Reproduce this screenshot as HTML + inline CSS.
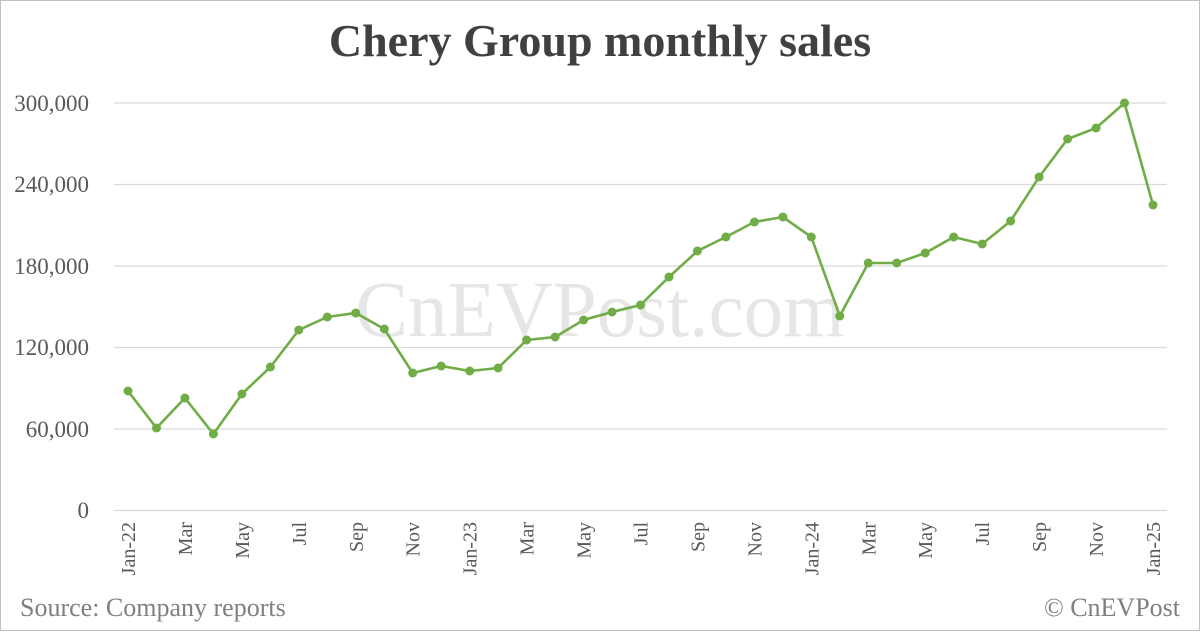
<!DOCTYPE html>
<html><head><meta charset="utf-8"><style>
body{margin:0;background:#fff}
</style></head><body>
<svg width="1200" height="631" viewBox="0 0 1200 631" xmlns="http://www.w3.org/2000/svg" font-family="Liberation Serif, serif">
<rect x="0.5" y="0.5" width="1199" height="630" fill="#fff" stroke="#bfbfbf"/>
<text x="600" y="56" text-anchor="middle" font-size="46" font-weight="bold" fill="#404040">Chery Group monthly sales</text>
<text x="600" y="336" text-anchor="middle" font-size="79" fill="#e6e6e6">CnEVPost.com</text>
<g stroke="#d9d9d9" stroke-width="1.3">
<line x1="114" x2="1167" y1="103" y2="103"/><line x1="114" x2="1167" y1="184.5" y2="184.5"/>
<line x1="114" x2="1167" y1="266" y2="266"/><line x1="114" x2="1167" y1="347.5" y2="347.5"/>
<line x1="114" x2="1167" y1="429" y2="429"/><line x1="114" x2="1167" y1="510.5" y2="510.5"/>
</g>
<g font-size="23" fill="#595959" text-anchor="end">
<text x="89" y="111">300,000</text><text x="89" y="192">240,000</text><text x="89" y="274">180,000</text>
<text x="89" y="355">120,000</text><text x="89" y="437">60,000</text><text x="89" y="518">0</text>
</g>
<path fill="none" stroke="#70ad47" stroke-width="2.6" d="M128,391 L156.5,428 L184.9,398 L213.4,434 L241.9,394 L270.4,367 L298.8,330 L327.3,317 L355.8,313 L384.3,329 L412.7,373 L441.2,366 L469.7,371 L498.1,368 L526.6,340 L555.1,337 L583.6,320 L612,312 L640.5,305 L669,277 L697.4,251 L725.9,237 L754.4,222 L782.9,217 L811.3,237 L839.8,316 L868.3,263 L896.8,263 L925.2,253 L953.7,237 L982.2,244 L1010.6,221 L1039.1,177 L1067.6,139 L1096.1,128 L1124.5,103 L1153,205"/>
<g fill="#70ad47">
<circle cx="128" cy="391" r="4.5"/><circle cx="156.5" cy="428" r="4.5"/><circle cx="184.9" cy="398" r="4.5"/><circle cx="213.4" cy="434" r="4.5"/><circle cx="241.9" cy="394" r="4.5"/><circle cx="270.4" cy="367" r="4.5"/><circle cx="298.8" cy="330" r="4.5"/><circle cx="327.3" cy="317" r="4.5"/><circle cx="355.8" cy="313" r="4.5"/><circle cx="384.3" cy="329" r="4.5"/><circle cx="412.7" cy="373" r="4.5"/><circle cx="441.2" cy="366" r="4.5"/><circle cx="469.7" cy="371" r="4.5"/><circle cx="498.1" cy="368" r="4.5"/><circle cx="526.6" cy="340" r="4.5"/><circle cx="555.1" cy="337" r="4.5"/><circle cx="583.6" cy="320" r="4.5"/><circle cx="612" cy="312" r="4.5"/><circle cx="640.5" cy="305" r="4.5"/><circle cx="669" cy="277" r="4.5"/><circle cx="697.4" cy="251" r="4.5"/><circle cx="725.9" cy="237" r="4.5"/><circle cx="754.4" cy="222" r="4.5"/><circle cx="782.9" cy="217" r="4.5"/><circle cx="811.3" cy="237" r="4.5"/><circle cx="839.8" cy="316" r="4.5"/><circle cx="868.3" cy="263" r="4.5"/><circle cx="896.8" cy="263" r="4.5"/><circle cx="925.2" cy="253" r="4.5"/><circle cx="953.7" cy="237" r="4.5"/><circle cx="982.2" cy="244" r="4.5"/><circle cx="1010.6" cy="221" r="4.5"/><circle cx="1039.1" cy="177" r="4.5"/><circle cx="1067.6" cy="139" r="4.5"/><circle cx="1096.1" cy="128" r="4.5"/><circle cx="1124.5" cy="103" r="4.5"/><circle cx="1153" cy="205" r="4.5"/>
</g>
<g font-size="20" fill="#595959" text-anchor="end">
<text transform="translate(135,522) rotate(-90)">Jan-22</text>
<text transform="translate(191.9,522) rotate(-90)">Mar</text>
<text transform="translate(248.9,522) rotate(-90)">May</text>
<text transform="translate(305.8,522) rotate(-90)">Jul</text>
<text transform="translate(362.8,522) rotate(-90)">Sep</text>
<text transform="translate(419.7,522) rotate(-90)">Nov</text>
<text transform="translate(476.7,522) rotate(-90)">Jan-23</text>
<text transform="translate(533.6,522) rotate(-90)">Mar</text>
<text transform="translate(590.6,522) rotate(-90)">May</text>
<text transform="translate(647.5,522) rotate(-90)">Jul</text>
<text transform="translate(704.4,522) rotate(-90)">Sep</text>
<text transform="translate(761.4,522) rotate(-90)">Nov</text>
<text transform="translate(818.3,522) rotate(-90)">Jan-24</text>
<text transform="translate(875.3,522) rotate(-90)">Mar</text>
<text transform="translate(932.2,522) rotate(-90)">May</text>
<text transform="translate(989.2,522) rotate(-90)">Jul</text>
<text transform="translate(1046.1,522) rotate(-90)">Sep</text>
<text transform="translate(1103.1,522) rotate(-90)">Nov</text>
<text transform="translate(1160,522) rotate(-90)">Jan-25</text>
</g>
<text x="20" y="616" font-size="26" fill="#7f7f7f">Source: Company reports</text>
<text x="1180" y="616" font-size="26" fill="#7f7f7f" text-anchor="end">© CnEVPost</text>
</svg>
</body></html>
